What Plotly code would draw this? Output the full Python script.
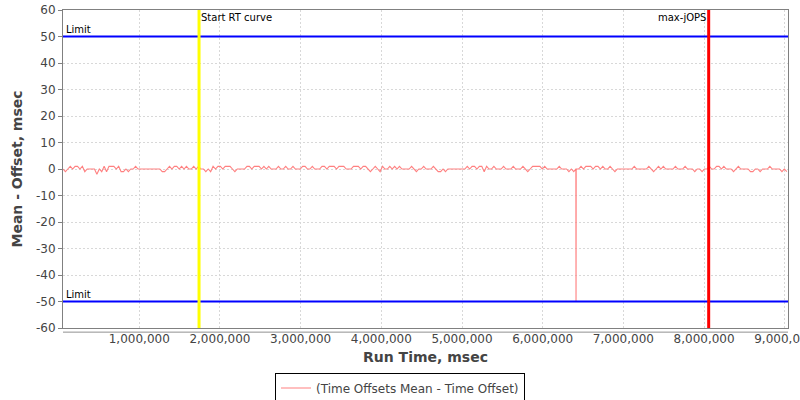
import plotly.graph_objects as go

# ---- data ----
start_time = 55000
interval = 30000
offsets = [
    0,-1,0,1,0,1,1,0,1,-1,0,0,0,0,-2,0,-1,1,-1,1,1,1,0,1,-1,-1,0,-1,0,0,1,0,0,0,0,0,0,0,0,0,0,-1,-1,0,1,0,1,1,0,1,0,1,
    0,0,1,0,1,0,0,-1,0,-1,1,0,1,1,0,1,1,1,0,-1,0,0,0,0,1,1,0,1,1,1,0,1,0,1,0,0,0,1,0,0,1,0,0,1,0,0,0,1,1,0,0,1,
    0,0,0,1,1,0,1,1,1,0,1,1,1,0,0,0,1,1,1,0,1,1,0,-1,0,1,0,-1,1,0,0,1,0,1,0,1,0,0,0,0,1,0,-1,0,0,1,0,0,0,1,0,-1,
    -1,0,-1,0,0,0,0,0,0,0,0,1,0,1,1,0,1,1,-1,1,0,0,1,0,0,0,1,0,0,0,1,0,0,0,1,0,-1,0,1,1,1,1,0,1,0,0,0,0,0,1,0,0,
    0,-1,0,-1,0,0,1,0,1,1,1,0,1,1,0,1,0,0,1,0,-1,0,0,0,0,0,0,0,1,0,0,0,0,0,1,0,-1,0,1,0,1,0,0,0,0,1,0,0,0,1,0,0,
    0,-1,0,0,-1,0,0,1,0,0,1,1,0,1,0,0,0,-1,0,1,0,0,0,0,-1,-1,0,0,-1,0,0,0,1,0,0,0,0,-1,0,-1,
]
times = [start_time + interval * i for i in range(len(offsets))]

# single outlier sample
spike_times = [6411000, 6413000, 6415000]
spike_values = [0, -50, 0]

limits = [50, -50]
start_rt = 1741000
max_jops = 8057000
x_range = [55000, 9040000]
y_range = [-60, 60]
x_ticks = [1000000, 2000000, 3000000, 4000000, 5000000, 6000000, 7000000, 8000000, 9000000]
y_ticks = [60, 50, 40, 30, 20, 10, 0, -10, -20, -30, -40, -50, -60]
y_tick_text = ["60", "50", "40", "30", "20", "10", "0", "-10", "-20", "-30", "-40", "-50", "-60"]

# merge outlier into the series
pts = sorted(list(zip(times, offsets)) + list(zip(spike_times, spike_values)))
all_t = [p[0] for p in pts]
all_v = [p[1] for p in pts]

font_family = "DejaVu Sans"

fig = go.Figure()
fig.add_trace(go.Scatter(
    x=all_t, y=all_v, mode="lines",
    line=dict(color="#FF8080", width=1.1),
    name="(Time Offsets Mean - Time Offset)",
))

shapes = []
for lim in limits:
    shapes.append(dict(type="line", xref="paper", x0=0, x1=1, yref="y", y0=lim, y1=lim,
                       line=dict(color="#0000FF", width=2)))
shapes.append(dict(type="line", xref="x", x0=start_rt, x1=start_rt, yref="paper", y0=0, y1=1,
                   line=dict(color="#FFFF00", width=3)))
shapes.append(dict(type="line", xref="x", x0=max_jops, x1=max_jops, yref="paper", y0=0, y1=1,
                   line=dict(color="#FF0000", width=3)))
# offset x axis line below the plot (JFreeChart style)
shapes.append(dict(type="line", xref="paper", x0=0, x1=1, yref="paper", y0=-0.013, y1=-0.013,
                   line=dict(color="#909090", width=1)))

annotations = []
for lim in limits:
    annotations.append(dict(text="Limit", xref="paper", x=0, yref="y", y=lim,
                            xanchor="left", yanchor="bottom", xshift=1, yshift=0, showarrow=False,
                            font=dict(family=font_family, size=10, color="#000000")))
annotations.append(dict(text="Start RT curve", xref="x", x=start_rt, yref="paper", y=1,
                        xanchor="left", yanchor="top", xshift=0, showarrow=False,
                        font=dict(family=font_family, size=10, color="#000000")))
annotations.append(dict(text="max-jOPS", xref="x", x=max_jops, yref="paper", y=1,
                        xanchor="right", yanchor="top", xshift=-1, showarrow=False,
                        font=dict(family=font_family, size=10, color="#000000")))

fig.update_layout(
    width=800, height=400,
    margin=dict(l=63, r=12, t=10, b=72, autoexpand=False),
    paper_bgcolor="#FFFFFF", plot_bgcolor="#FFFFFF",
    font=dict(family=font_family, size=12, color="#444444"),
    shapes=shapes, annotations=annotations,
    showlegend=True,
    legend=dict(orientation="h", xref="container", x=0.5, xanchor="center", y=-0.14, yanchor="top",
                bordercolor="#000000", borderwidth=1, bgcolor="#FFFFFF",
                font=dict(family=font_family, size=12, color="#444444")),
)
fig.update_xaxes(
    range=x_range, tickvals=x_ticks, tickformat=",d", automargin=False,
    ticklabeloverflow="allow",
    showgrid=True, gridcolor="#D8D8D8", griddash="2px,2px", gridwidth=1,
    showline=True, linecolor="#808080", linewidth=1, mirror=True,
    ticks="", zeroline=False,
    tickfont=dict(family=font_family, size=12, color="#444444"),
    title=dict(text="<b>Run Time, msec</b>", font=dict(family=font_family, size=14, color="#444444"), standoff=6),
)
fig.update_yaxes(
    range=y_range, tickvals=y_ticks, ticktext=y_tick_text, automargin=False,
    showgrid=True, gridcolor="#D8D8D8", griddash="2px,2px", gridwidth=1,
    showline=True, linecolor="#808080", linewidth=1, mirror=True,
    ticks="outside", ticklen=4, tickcolor="#808080", zeroline=False,
    tickfont=dict(family=font_family, size=12, color="#444444"),
    title=dict(text="<b>Mean - Offset, msec</b>", font=dict(family=font_family, size=14, color="#444444"), standoff=10),
)

# remove the default 8px page margin so the figure sits at the window's top-left corner
fig.write_html("out.html", config={"displayModeBar": False},
               post_script="document.body.style.margin='0';")
